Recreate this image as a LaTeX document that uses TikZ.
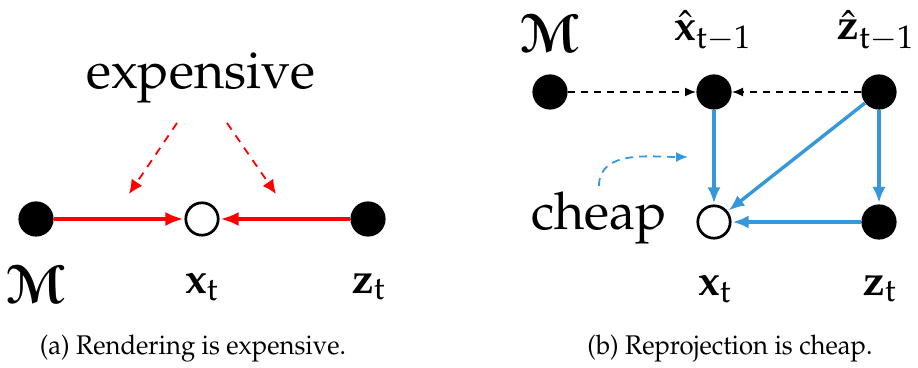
\documentclass[tikz,border=0pt]{standalone}
\usepackage[T1]{fontenc}
\usepackage{mathpazo}
\usepackage[mathscr]{eucal}
\usepackage{bm}
\usetikzlibrary{arrows.meta}
\definecolor{myblue}{RGB}{52,152,219}
\newcommand{\myM}{\bm{\mathscr{M}}}
\tikzset{
  dot/.style={circle,fill=black,inner sep=0pt,minimum size=17.6pt},
  hollow/.style={circle,draw=black,fill=white,line width=1.35pt,inner sep=0pt,minimum size=16.2pt},
  lbl/.style={font=\fontsize{21.5}{24}\selectfont,inner sep=0pt},
  mlbl/.style={font=\fontsize{27}{30}\selectfont,inner sep=0pt},
  bigtxt/.style={font=\fontsize{26}{30}\selectfont,inner sep=0pt},
  captxt/.style={font=\fontsize{13.5}{15}\selectfont,inner sep=0pt,xscale=0.95},
  redarr/.style={draw=red,line width=1.7pt,-{Latex[length=9pt,width=7pt]},shorten >=0.5pt},
  reddash/.style={draw=red,line width=0.9pt,dash pattern=on 4pt off 3.5pt,-{Latex[length=7pt,width=6.5pt]}},
  bluearr/.style={draw=myblue,line width=1.7pt,-{Latex[length=8pt,width=6.5pt]},shorten >=0.5pt},
  bluedash/.style={draw=myblue,line width=0.9pt,dash pattern=on 4pt off 3pt,-{Latex[length=6pt,width=5pt]}},
  blkdash/.style={draw=black,line width=0.8pt,dash pattern=on 3.5pt off 3pt,-{Latex[length=5.5pt,width=4.5pt]}}
}
\begin{document}
\begin{tikzpicture}[x=0.5pt,y=-0.5pt]
\useasboundingbox (0,0) rectangle (918,368);
% panel (a)
\node[dot] (aM) at (36,219) {};
\node[hollow] (ax) at (202,219) {};
\node[dot] (az) at (368,219) {};
\draw[redarr] (aM) -- (ax);
\draw[redarr] (az) -- (ax);
\node[mlbl] (laM) at (36,285) {$\myM$};
\node[lbl] (lax) at (202,287) {$\mathbf{x}_{\mathrm{t}}$};
\node[lbl] (laz) at (369,287) {$\mathbf{z}_{\mathrm{t}}$};
\node[bigtxt] (exp) at (201,78) {expensive};
\coordinate (e1s) at (177,123);
\coordinate (e1e) at (129,194);
\coordinate (e2s) at (227,123);
\coordinate (e2e) at (276,194);
\draw[reddash] (e1s) -- (e1e);
\draw[reddash] (e2s) -- (e2e);
\node[captxt] (capa) at (193,349) {(a) Rendering is expensive.};
% panel (b)
\node[dot] (bM) at (550,92) {};
\node[dot] (bxh) at (714,92) {};
\node[dot] (bzh) at (879,92) {};
\node[hollow] (bx) at (714,222) {};
\node[dot] (bz) at (879,222) {};
\node[mlbl] (lbM) at (550,34) {$\myM$};
\node[lbl] (lbxh) at (713,31) {$\hat{\mathbf{x}}_{\mathrm{t}-1}$};
\node[lbl] (lbzh) at (876,31) {$\hat{\mathbf{z}}_{\mathrm{t}-1}$};
\node[lbl] (lbx) at (715,289) {$\mathbf{x}_{\mathrm{t}}$};
\node[lbl] (lbz) at (880,289) {$\mathbf{z}_{\mathrm{t}}$};
\draw[blkdash] (bM) -- (bxh);
\draw[blkdash] (bzh) -- (bxh);
\draw[bluearr] (bxh) -- (bx);
\draw[bluearr] (bzh) -- (bx);
\draw[bluearr] (bzh) -- (bz);
\draw[bluearr] (bz) -- (bx);
\node[bigtxt] (cheap) at (599,218) {cheap};
\coordinate (cs) at (599,186);
\coordinate (ce) at (688,157);
\draw[bluedash] (cs) to[out=90,in=180] (ce);
\node[captxt] (capb) at (730,349) {(b) Reprojection is cheap.};
\end{tikzpicture}
\end{document}
